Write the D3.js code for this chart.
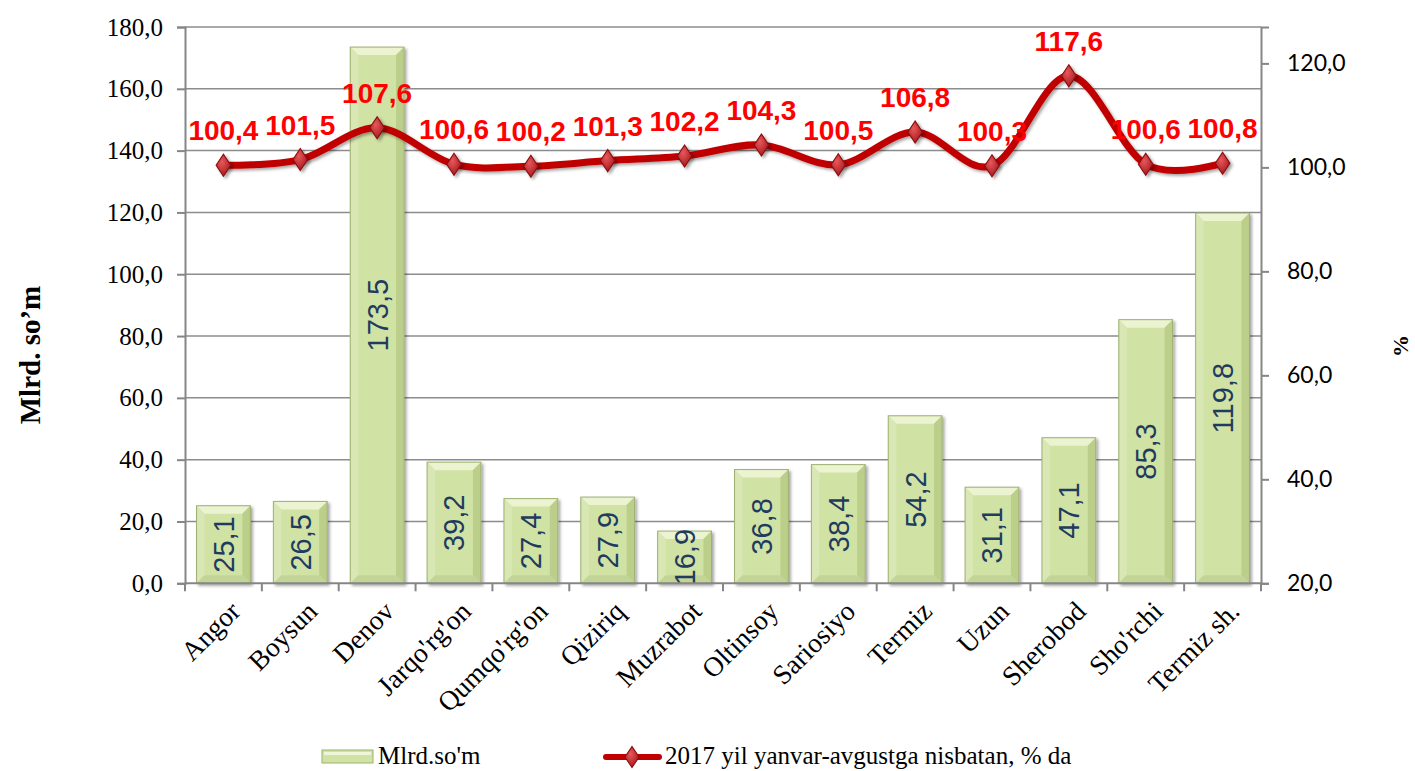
<!DOCTYPE html>
<html>
<head>
<meta charset="utf-8">
<script src="https://cdn.jsdelivr.net/npm/d3@7"></script>
<style>
  html, body { margin: 0; padding: 0; background: #fff; }
  svg { display: block; }
</style>
</head>
<body>
<svg id="chart" width="1415" height="771"></svg>
<script>
const categories = ["Angor", "Boysun", "Denov", "Jarqo'rg'on", "Qumqo'rg'on", "Qiziriq", "Muzrabot", "Oltinsoy", "Sariosiyo", "Termiz", "Uzun", "Sherobod", "Sho'rchi", "Termiz sh."];
const barValues = [25.1, 26.5, 173.5, 39.2, 27.4, 27.9, 16.9, 36.8, 38.4, 54.2, 31.1, 47.1, 85.3, 119.8];
const pctValues = [100.4, 101.5, 107.6, 100.6, 100.2, 101.3, 102.2, 104.3, 100.5, 106.8, 100.3, 117.6, 100.6, 100.8];
const leftTicks = [0, 20, 40, 60, 80, 100, 120, 140, 160, 180];
const rightTicks = [20, 40, 60, 80, 100, 120];
const barSeriesName = "Mlrd.so'm";
const lineSeriesName = "2017 yil yanvar-avgustga nisbatan, % da";
const leftTitle = "Mlrd. so\u2019m";
const rightTitle = "%";

const fmt = v => d3.format(".1f")(v).replace(".", ",");

const svg = d3.select("#chart");
const L = 185, R = 1261, T = 27, B = 583.3;

const x = d3.scaleBand().domain(categories).range([L, R]).paddingInner(0.3).paddingOuter(0.15);
const yL = d3.scaleLinear().domain([0, 180]).range([B, T]);
const yR = d3.scaleLinear().domain([20, 127]).range([B, T]);

const defs = svg.append("defs");
const sh = defs.append("filter").attr("id", "shadow").attr("x", "-20%").attr("y", "-20%").attr("width", "150%").attr("height", "150%");
sh.append("feDropShadow").attr("dx", 2).attr("dy", 2).attr("stdDeviation", 1.5).attr("flood-color", "#000").attr("flood-opacity", 0.35);
const mg = defs.append("radialGradient").attr("id", "mgrad").attr("cx", "40%").attr("cy", "35%").attr("r", "70%");
mg.append("stop").attr("offset", "0%").attr("stop-color", "#e8585a");
mg.append("stop").attr("offset", "100%").attr("stop-color", "#a3161b");

// gridlines
svg.append("g").selectAll("line").data(leftTicks.filter(d => d > 0)).join("line")
  .attr("x1", L).attr("x2", R).attr("y1", d => yL(d)).attr("y2", d => yL(d))
  .attr("stroke", "#8c8c8c").attr("stroke-width", 1.5);

// bars with bevel
const bev = 8;
const bars = svg.append("g").selectAll("g").data(categories).join("g").attr("filter", "url(#shadow)");
bars.each(function(c, i) {
  const g = d3.select(this);
  const x0 = x(c), w = x.bandwidth(), y0 = yL(barValues[i]), y1 = yL(0);
  const h = y1 - y0;
  const b = Math.min(bev, h / 2, w / 2);
  g.append("rect").attr("x", x0).attr("y", y0).attr("width", w).attr("height", h).attr("fill", "#d1e2a5");
  g.append("path").attr("d", `M${x0},${y0}L${x0 + w},${y0}L${x0 + w - b},${y0 + b}L${x0 + b},${y0 + b}Z`).attr("fill", "#ebf3d0");
  g.append("path").attr("d", `M${x0},${y0}L${x0 + b},${y0 + b}L${x0 + b},${y1 - b}L${x0},${y1}Z`).attr("fill", "#d9e7b4");
  g.append("path").attr("d", `M${x0 + w},${y0}L${x0 + w - b},${y0 + b}L${x0 + w - b},${y1 - b}L${x0 + w},${y1}Z`).attr("fill", "#bccf8a");
  g.append("path").attr("d", `M${x0},${y1}L${x0 + b},${y1 - b}L${x0 + w - b},${y1 - b}L${x0 + w},${y1}Z`).attr("fill", "#c3d596");
  g.append("rect").attr("x", x0).attr("y", y0).attr("width", w).attr("height", h)
    .attr("fill", "none").attr("stroke", "#9db072").attr("stroke-width", 1);
});

// bar labels
svg.append("g").selectAll("text").data(categories).join("text")
  .attr("transform", (c, i) => `translate(${x(c) + x.bandwidth() / 2},${(yL(barValues[i]) + yL(0)) / 2}) rotate(-90)`)
  .attr("text-anchor", "middle").attr("dy", "0.36em")
  .attr("font-family", "Liberation Sans, Arial, sans-serif").attr("font-size", 29)
  .attr("fill", "#1f3b5e")
  .text((c, i) => fmt(barValues[i]));

// axes
const axisColor = "#868686";
const gl = svg.append("g").attr("transform", `translate(${L},0)`)
  .call(d3.axisLeft(yL).tickValues(leftTicks).tickSize(8).tickPadding(14).tickFormat(fmt));
gl.select(".domain").attr("stroke", axisColor).attr("stroke-width", 2);
gl.selectAll(".tick line").attr("stroke", axisColor).attr("stroke-width", 2);
gl.selectAll("text").attr("font-family", "Liberation Serif, Times New Roman, serif").attr("font-size", 25).attr("fill", "#000");

const gr = svg.append("g").attr("transform", `translate(${R},0)`)
  .call(d3.axisRight(yR).tickValues(rightTicks).tickSize(8).tickPadding(18).tickFormat(fmt));
gr.select(".domain").attr("stroke", axisColor).attr("stroke-width", 2);
gr.selectAll(".tick line").attr("stroke", axisColor).attr("stroke-width", 2);
gr.selectAll("text").attr("font-family", "Lato, Open Sans, sans-serif").attr("font-size", 23).attr("fill", "#000");

// x axis
const xb = svg.append("g");
xb.append("line").attr("x1", L).attr("x2", R).attr("y1", B).attr("y2", B).attr("stroke", axisColor).attr("stroke-width", 2);
const bounds = categories.map(c => x(c) - x.step() * x.paddingInner() / 2).concat([R]);
bounds[0] = L;
xb.selectAll("line.t").data(bounds).join("line").attr("class", "t")
  .attr("x1", d => d).attr("x2", d => d).attr("y1", B).attr("y2", B + 8)
  .attr("stroke", axisColor).attr("stroke-width", 2);
xb.selectAll("text").data(categories).join("text")
  .attr("transform", c => `translate(${x(c) + x.bandwidth() / 2 + 5},${B + 16}) rotate(-45)`)
  .attr("text-anchor", "end").attr("dy", "0.7em")
  .attr("font-family", "Liberation Serif, Times New Roman, serif").attr("font-size", 27.5).attr("fill", "#000")
  .text(c => c);

// line
const pts = categories.map((c, i) => [x(c) + x.bandwidth() / 2, yR(pctValues[i])]);
svg.append("path").datum(pts)
  .attr("d", d3.line().curve(d3.curveCardinal.tension(0)))
  .attr("fill", "none").attr("stroke", "#c00000").attr("stroke-width", 7).attr("stroke-linecap", "round")
  .attr("filter", "url(#shadow)");
svg.append("g").selectAll("path").data(pts).join("path")
  .attr("d", d3.symbol().type(d3.symbolDiamond).size(140))
  .attr("transform", d => `translate(${d[0]},${d[1]}) scale(1.15,1)`)
  .attr("fill", "url(#mgrad)").attr("stroke", "#8a0d10").attr("stroke-width", 1)
  .attr("filter", "url(#shadow)");

// line labels
svg.append("g").selectAll("text").data(pts).join("text")
  .attr("x", d => d[0]).attr("y", d => d[1] - 25)
  .attr("text-anchor", "middle")
  .attr("font-family", "Liberation Sans, Arial, sans-serif").attr("font-weight", "bold").attr("font-size", 28)
  .attr("fill", "#ff0000")
  .text((d, i) => fmt(pctValues[i]));

// axis titles
svg.append("text").attr("transform", `translate(40,355) rotate(-90)`)
  .attr("text-anchor", "middle")
  .attr("font-family", "Liberation Serif, Times New Roman, serif").attr("font-weight", "bold").attr("font-size", 29)
  .text(leftTitle);
svg.append("text").attr("transform", `translate(1408,346) rotate(-90)`)
  .attr("text-anchor", "middle")
  .attr("font-family", "Liberation Serif, Times New Roman, serif").attr("font-weight", "bold").attr("font-size", 22)
  .text(rightTitle);

// legend
const lg = svg.append("g");
const lgFont = "Liberation Serif, Times New Roman, serif";
lg.append("rect").attr("x", 322).attr("y", 750).attr("width", 51).attr("height", 13)
  .attr("fill", "#d1e2a5").attr("stroke", "#9db072").attr("stroke-width", 1);
lg.append("rect").attr("x", 324).attr("y", 752).attr("width", 47).attr("height", 3).attr("fill", "#eef5d8");
lg.append("text").attr("x", 378).attr("y", 764).attr("font-family", lgFont).attr("font-size", 25).text(barSeriesName);
lg.append("line").attr("x1", 606).attr("x2", 659).attr("y1", 757).attr("y2", 757)
  .attr("stroke", "#c00000").attr("stroke-width", 6).attr("stroke-linecap", "round");
lg.append("path").attr("d", d3.symbol().type(d3.symbolDiamond).size(130))
  .attr("transform", "translate(632,757) scale(1.15,1)")
  .attr("fill", "url(#mgrad)").attr("stroke", "#8a0d10").attr("stroke-width", 1);
lg.append("text").attr("x", 665).attr("y", 764).attr("font-family", lgFont).attr("font-size", 25).text(lineSeriesName);
</script>
</body>
</html>
